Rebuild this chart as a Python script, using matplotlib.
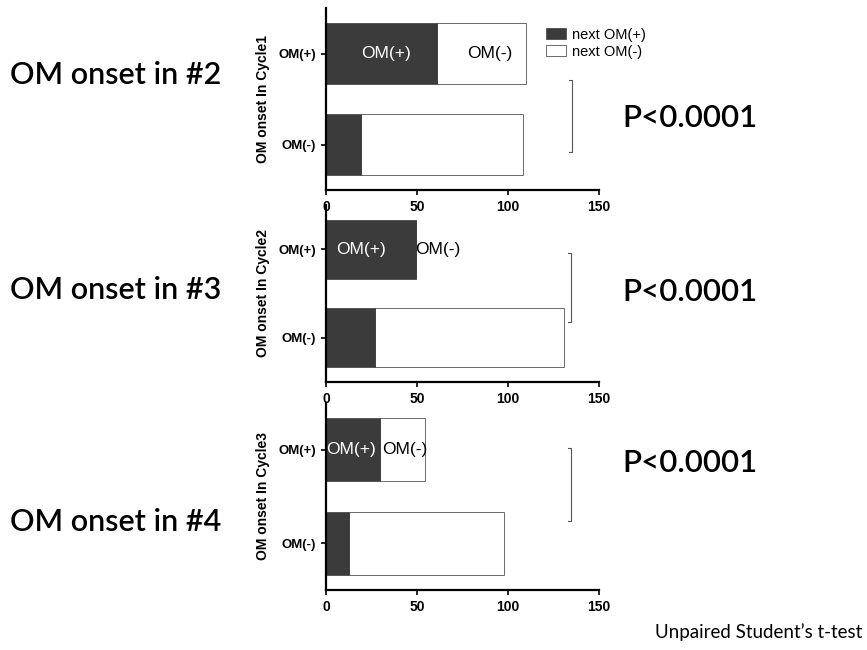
import matplotlib.pyplot as plt

# ---------------------------------------------
# Data
# ---------------------------------------------
rows = ["OM(-)", "OM(+)"]                       # y order bottom -> top
cycles = ["OM onset In Cycle1", "OM onset In Cycle2", "OM onset In Cycle3"]
side_labels = ["OM onset in #2", "OM onset in #3", "OM onset in #4"]
p_labels = ["P<0.0001", "P<0.0001", "P<0.0001"]

# next OM(+) count (dark) and next OM(-) count (white), per row [OM(-), OM(+)]
next_pos = [[19, 61], [27, 49.5], [12.5, 29.5]]
next_neg = [[89, 49], [104, 0], [85.5, 25]]

# in-bar label x positions (data units) for the OM(+) row
inbar_pos_x = [33, 19.5, 14]
inbar_neg_x = [90, 61.5, 43.5]

# bracket: x, y_top, y_bottom (data units)
brackets = [(135, 0.71, -0.08), (134.5, 0.96, 0.18), (134.5, 1.02, 0.24)]

xticks = [0, 50, 100, 150]

DARK = "#3b3b3b"

# axes rectangles in pixels (left, top, right, bottom) of an 867x650 canvas
W, H = 867, 650
boxes = [(326, 8, 599, 190), (326, 205, 599, 382), (326, 403, 599, 590)]
side_y = [75, 290, 522]
p_y = [118, 292, 463]

fig = plt.figure(figsize=(W / 100, H / 100), dpi=100)
plt.rcParams["font.family"] = ["Liberation Sans", "DejaVu Sans"]

for i in range(3):
    l, t, r, b = boxes[i]
    ax = fig.add_axes([l / W, 1 - b / H, (r - l) / W, (b - t) / H])
    ax.set_facecolor("none")

    ypos = list(range(len(rows)))
    ax.barh(ypos, next_pos[i], height=0.67, color=DARK, edgecolor=DARK,
            linewidth=0.5, label="next OM(+)", zorder=2)
    ax.barh(ypos, next_neg[i], left=next_pos[i], height=0.67, color="white",
            edgecolor="#6a6a6a", linewidth=0.7, label="next OM(-)", zorder=1)

    ax.set_xlim(0, 150)
    ax.set_ylim(-0.5, 1.5)
    ax.set_xticks(xticks)
    ax.set_yticks(ypos)
    ax.set_yticklabels(rows)
    for s in ["top", "right"]:
        ax.spines[s].set_visible(False)
    for s in ["left", "bottom"]:
        ax.spines[s].set_linewidth(1.6)
    ax.tick_params(axis="both", width=1.2, length=3.5, labelsize=9.5)
    ax.tick_params(axis="x", pad=4, labelsize=10)
    for lab in ax.get_xticklabels() + ax.get_yticklabels():
        lab.set_fontweight("bold")
    ax.set_ylabel(cycles[i], fontsize=10, fontweight="bold", labelpad=6)

    # in-bar labels
    ax.text(inbar_pos_x[i], 1, "OM(+)", color="white", fontsize=12.5,
            ha="center", va="center", zorder=3)
    ax.text(inbar_neg_x[i], 1, "OM(-)", color="black", fontsize=12.5,
            ha="center", va="center", zorder=3)

    # significance bracket
    bx, ytop, ybot = brackets[i]
    ax.plot([bx - 1.5, bx, bx, bx - 1.5], [ytop, ytop, ybot, ybot],
            color="#555555", linewidth=0.8, clip_on=False)

    if i == 0:
        fig.legend(*ax.get_legend_handles_labels(), loc="upper left",
                   bbox_to_anchor=(540 / W, 1 - 22 / H), frameon=False,
                   fontsize=10.5, handlelength=1.4, handleheight=0.8,
                   handletextpad=0.4, labelspacing=0.2, borderaxespad=0)

    fig.text(10 / W, 1 - side_y[i] / H, side_labels[i], fontsize=22,
             family=["Lato", "DejaVu Sans"], fontweight="semibold",
             ha="left", va="center")
    fig.text(622 / W, 1 - p_y[i] / H, p_labels[i], fontsize=22.5,
             family=["Lato", "DejaVu Sans"], fontweight="semibold",
             ha="left", va="center")

fig.text(862 / W, 1 - 632 / H, "Unpaired Student\u2019s t-test", fontsize=13.5,
         family=["Lato", "DejaVu Sans"], ha="right", va="center")

fig.savefig("out.png", dpi=100)
plt.close(fig)
